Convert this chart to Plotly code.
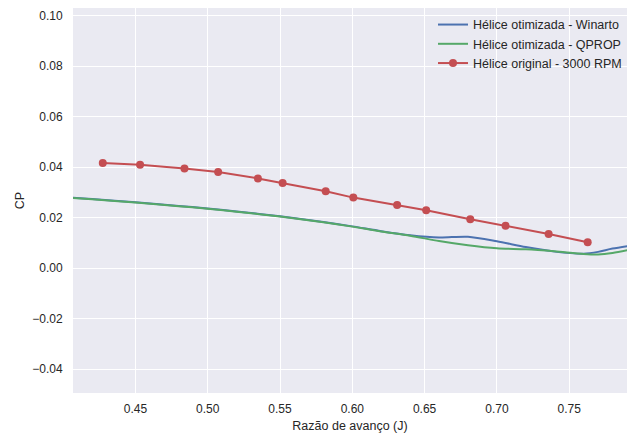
import plotly.graph_objects as go

# Advance ratio grid for the optimised-propeller curves
j_opt = [0.40, 0.42, 0.45, 0.48, 0.50, 0.52, 0.55, 0.58, 0.60, 0.62, 0.64,
         0.66, 0.68, 0.70, 0.72, 0.74, 0.76, 0.77, 0.78, 0.80]
cp_winarto = [0.0281, 0.0273, 0.0261, 0.0246, 0.0236, 0.0224, 0.0205, 0.0182,
              0.0165, 0.0146, 0.0130, 0.0121, 0.0124, 0.0106, 0.0083, 0.0065,
              0.0057, 0.0064, 0.0077, 0.0095]
cp_qprop = [0.0280, 0.0272, 0.0260, 0.0245, 0.0235, 0.0223, 0.0204, 0.0181,
            0.0164, 0.0145, 0.0128, 0.0107, 0.0090, 0.0078, 0.0074, 0.0066,
            0.0056, 0.0054, 0.0060, 0.0082]

# Original propeller, measured at 3000 RPM
j_orig = [0.4274, 0.4532, 0.4839, 0.5072, 0.5347, 0.5518, 0.5816, 0.6007,
          0.6310, 0.6511, 0.6816, 0.7060, 0.7358, 0.7628]
cp_orig = [0.0416, 0.0409, 0.0394, 0.0380, 0.0355, 0.0337, 0.0304, 0.0279,
           0.0250, 0.0229, 0.0193, 0.0167, 0.0135, 0.0102]

x_ticks = [0.45, 0.50, 0.55, 0.60, 0.65, 0.70, 0.75]
y_ticks = [-0.04, -0.02, 0.00, 0.02, 0.04, 0.06, 0.08, 0.10]

BLUE = "#4C72B0"
GREEN = "#55A868"
RED = "#C44E52"
TEXT = "#262626"
FONT = "Liberation Sans, Arial, sans-serif"

fig = go.Figure()
fig.add_trace(go.Scatter(
    x=j_opt, y=cp_winarto, mode="lines", name="Hélice otimizada - Winarto",
    line=dict(color=BLUE, width=2, shape="spline", smoothing=0.8)))
fig.add_trace(go.Scatter(
    x=j_opt, y=cp_qprop, mode="lines", name="Hélice otimizada - QPROP",
    line=dict(color=GREEN, width=2, shape="spline", smoothing=0.8)))
fig.add_trace(go.Scatter(
    x=j_orig, y=cp_orig, mode="lines+markers", name="Hélice original - 3000 RPM",
    line=dict(color=RED, width=2), marker=dict(color=RED, size=8)))

fig.update_layout(
    width=627, height=437,
    margin=dict(l=73, r=0, t=8, b=44),
    paper_bgcolor="white",
    plot_bgcolor="#EAEAF2",
    font=dict(family=FONT, color=TEXT, size=12),
    showlegend=True,
    legend=dict(x=1, y=0.995, xanchor="right", yanchor="top",
                bgcolor="rgba(0,0,0,0)", font=dict(size=12.5, color=TEXT),
                tracegroupgap=0, itemwidth=30),
    xaxis=dict(
        range=[0.4068, 0.790], tickvals=x_ticks, tickformat=".2f",
        showgrid=True, gridcolor="white", gridwidth=1, zeroline=False,
        showline=False, ticks="outside", ticklen=5,
        tickcolor="rgba(0,0,0,0)", tickfont=dict(size=12),
        title=dict(text="Razão de avanço (J)", font=dict(size=12.5, color=TEXT),
                   standoff=5)),
    yaxis=dict(
        range=[-0.0495, 0.103], tickvals=y_ticks, tickformat=".2f",
        showgrid=True, gridcolor="white", gridwidth=1, zeroline=False,
        showline=False, ticks="outside", ticklen=7,
        tickcolor="rgba(0,0,0,0)", tickfont=dict(size=12),
        title=dict(text="CP", font=dict(size=12.5, color=TEXT), standoff=4)),
)

fig.write_html("out.html")
